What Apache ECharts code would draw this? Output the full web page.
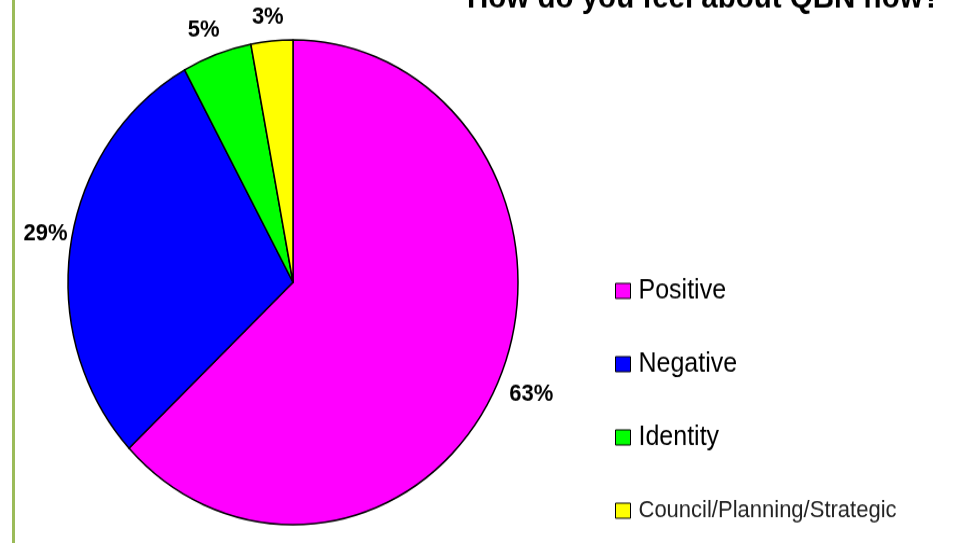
<!DOCTYPE html>
<html>
<head>
<meta charset="utf-8">
<script src="https://cdn.jsdelivr.net/npm/echarts@6/dist/echarts.min.js"></script>
<style>
  html, body { margin: 0; padding: 0; background: #fff; overflow: hidden; }
  #wrap { width: 953px; height: 543px; overflow: hidden; }
  /* chart is laid out at 953x504 and stretched vertically to fill 543px */
  #chart { width: 953px; height: 504px; transform: scaleY(1.0774); transform-origin: 0 0; }
</style>
</head>
<body>
<div id="wrap"><div id="chart"></div></div>
<script>
const titleText = 'How do you feel about QBN now?';
const categories = ['Positive', 'Negative', 'Identity', 'Council/Planning/Strategic'];
const values = [63, 29, 5, 3];
const colors = ['#FF00FF', '#0000FF', '#00FF00', '#FFFF00'];

const FONT = '"Liberation Sans", Arial, sans-serif';
const CX = 293, CY = 262, R = 225, LABEL_R = 252;
// small per-slice label nudges (label styling, in layout pixels)
const labelNudge = [[7, 4], [1.5, -6], [-4, 3], [-1.5, 4.5]];

const total = values.reduce((a, b) => a + b, 0);
function midAngle(i) {
  let before = 0;
  for (let k = 0; k < i; k++) before += values[k];
  return (before + values[i] / 2) / total * Math.PI * 2;
}

const chart = echarts.init(document.getElementById('chart'), null, { renderer: 'canvas' });
chart.setOption({
  backgroundColor: '#ffffff',
  animation: false,
  title: {
    text: titleText,
    left: 467,
    top: -16,
    padding: 0,
    textStyle: { fontFamily: FONT, fontSize: 29.5, fontWeight: 'bold', color: '#000' }
  },
  graphic: [{
    type: 'rect',
    shape: { x: 12, y: 0, width: 3, height: 504 },
    style: { fill: '#9BBB59' },
    silent: true
  }],
  legend: {
    orient: 'vertical',
    left: 615,
    top: 257,
    padding: 0,
    itemGap: 42,
    itemWidth: 15,
    itemHeight: 14,
    icon: 'rect',
    selectedMode: false,
    itemStyle: { borderColor: '#000', borderWidth: 1 },
    textStyle: { fontFamily: FONT, fontSize: 25, color: '#000', lineHeight: 26, padding: [0, 0, 0, 3] },
    data: categories.map((name, i) => i === 3
      ? { name, textStyle: { fontSize: 22, color: '#222' } }
      : { name })
  },
  series: [{
    type: 'pie',
    center: [CX, CY],
    radius: R,
    startAngle: 90,
    clockwise: true,
    avoidLabelOverlap: false,
    silent: true,
    itemStyle: { borderColor: '#000', borderWidth: 1.5 },
    label: {
      show: true,
      position: 'outside',
      formatter: p => p.value + '%',
      fontFamily: FONT,
      fontSize: 22,
      fontWeight: 'bold',
      color: '#000'
    },
    labelLine: { show: false },
    labelLayout: params => {
      const i = params.dataIndex;
      const a = midAngle(i);
      return {
        x: CX + Math.sin(a) * LABEL_R + labelNudge[i][0],
        y: CY - Math.cos(a) * LABEL_R + labelNudge[i][1],
        align: 'center',
        verticalAlign: 'middle'
      };
    },
    data: categories.map((name, i) => ({
      name,
      value: values[i],
      itemStyle: { color: colors[i] }
    }))
  }]
});
</script>
</body>
</html>
